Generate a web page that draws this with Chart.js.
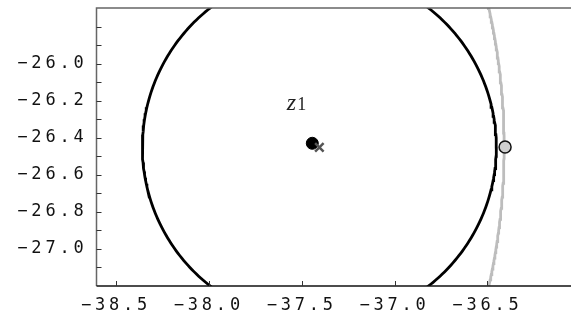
<!DOCTYPE html>
<html>
<head>
<meta charset="utf-8">
<script src="https://cdn.jsdelivr.net/npm/chart.js@4/dist/chart.umd.min.js"></script>
<style>
  body { margin: 0; background: #fff; }
  #wrap { width: 571px; height: 322px; }
</style>
</head>
<body>
<div id="wrap"><canvas id="chart"></canvas></div>
<script>
// axis ranges and ticks
const xRange = [-38.605, -36.05];
const yRange = [-27.2, -25.7];
const xTickValues = [-38.5, -38.0, -37.5, -37.0, -36.5];
const yTickValues = [-27.1, -27.0, -26.9, -26.8, -26.7, -26.6, -26.5, -26.4, -26.3, -26.2, -26.1, -26.0, -25.9, -25.8];
const yLabelled = [-27.0, -26.8, -26.6, -26.4, -26.2, -26.0];

// black circle and the grey arc (centre x, centre y, radius)
const blackCircle = [-37.405, -26.45, 0.953];
const greyCircle = [-39.86, -26.45, 3.45];

// single points
const z1Point = [{ x: -37.443, y: -26.43 }];
const crossPoint = [{ x: -37.405, y: -26.452 }];
const greyPoint = [{ x: -36.405, y: -26.45 }];
const z1Label = { x: -37.58, y: -26.25 };

function circlePoints(c, n) {
  const pts = [];
  for (let i = 0; i <= n; i++) {
    const a = (i / n) * Math.PI * 2;
    pts.push({ x: c[0] + c[2] * Math.cos(a), y: c[1] + c[2] * Math.sin(a) });
  }
  return pts;
}

function fmt(v) {
  return v.toFixed(1).replace("-", "\u2212");
}

function noPad(s) {
  s.paddingTop = 0;
  s.paddingBottom = 0;
  s.paddingLeft = 0;
  s.paddingRight = 0;
}

const framePlugin = {
  id: "frame",
  beforeDraw(chart) {
    chart.ctx.letterSpacing = "3.8px";
  },
  afterDraw(chart) {
    const { ctx, chartArea: a, scales } = chart;
    ctx.save();
    ctx.letterSpacing = "0px";
    // frame
    ctx.lineWidth = 1.5;
    ctx.strokeStyle = "#666";
    ctx.beginPath();
    ctx.moveTo(a.left, a.bottom);
    ctx.lineTo(a.left, a.top);
    ctx.lineTo(a.right, a.top);
    ctx.stroke();
    ctx.strokeStyle = "#111";
    ctx.beginPath();
    ctx.moveTo(a.left, a.bottom);
    ctx.lineTo(a.right, a.bottom);
    ctx.stroke();
    // inward tick marks
    ctx.lineWidth = 1;
    ctx.strokeStyle = "#333";
    ctx.beginPath();
    yTickValues.forEach((v) => {
      const py = Math.round(scales.y.getPixelForValue(v)) + 0.5;
      ctx.moveTo(a.left, py);
      ctx.lineTo(a.left + 5, py);
    });
    xTickValues.forEach((v) => {
      const px = Math.round(scales.x.getPixelForValue(v)) + 0.5;
      ctx.moveTo(px, a.bottom);
      ctx.lineTo(px, a.bottom - 5);
    });
    ctx.stroke();
    // z1 label
    const lx = scales.x.getPixelForValue(z1Label.x);
    const ly = scales.y.getPixelForValue(z1Label.y);
    ctx.fillStyle = "#222";
    ctx.textBaseline = "alphabetic";
    ctx.textAlign = "left";
    ctx.font = "italic 24px 'Liberation Serif'";
    ctx.fillText("z", lx, ly);
    const w = ctx.measureText("z").width;
    ctx.font = "18px 'Liberation Serif'";
    ctx.fillText("1", lx + w + 1, ly);
    ctx.restore();
  },
};

const tickFont = { family: "'DejaVu Sans Mono'", size: 17 };

new Chart(document.getElementById("chart"), {
  type: "scatter",
  data: {
    datasets: [
      {
        data: greyPoint,
        pointRadius: 6,
        pointBackgroundColor: "#cfcfcf",
        pointBorderColor: "#111",
        pointBorderWidth: 1.5,
      },
      {
        data: crossPoint,
        pointStyle: "crossRot",
        pointRadius: 6,
        pointBorderColor: "#555",
        pointBorderWidth: 2.5,
      },
      {
        data: z1Point,
        pointRadius: 6,
        pointBackgroundColor: "#000",
        pointBorderColor: "#000",
        pointBorderWidth: 1,
      },
      {
        data: circlePoints(blackCircle, 360),
        showLine: true,
        borderColor: "#000",
        borderWidth: 2.8,
        pointRadius: 0,
      },
      {
        data: circlePoints(greyCircle, 1440),
        showLine: true,
        borderColor: "#bdbdbd",
        borderWidth: 2.8,
        pointRadius: 0,
      },
    ],
  },
  options: {
    responsive: true,
    maintainAspectRatio: false,
    animation: false,
    layout: { autoPadding: false, padding: { top: 8, right: 0, bottom: 0, left: 0 } },
    plugins: { legend: { display: false }, tooltip: { enabled: false } },
    scales: {
      x: {
        type: "linear",
        min: xRange[0],
        max: xRange[1],
        afterBuildTicks: (s) => { s.ticks = xTickValues.map((v) => ({ value: v })); },
        afterFit: (s) => { s.height = 36; noPad(s); },
        grid: { display: false, drawTicks: false },
        border: { display: false },
        ticks: { color: "#111", font: tickFont, padding: 9, maxRotation: 0, callback: (v) => fmt(v) },
      },
      y: {
        type: "linear",
        min: yRange[0],
        max: yRange[1],
        afterBuildTicks: (s) => { s.ticks = yLabelled.map((v) => ({ value: v })); },
        afterFit: (s) => { s.width = 96.5; noPad(s); },
        grid: { display: false, drawTicks: false },
        border: { display: false },
        ticks: { color: "#111", font: tickFont, padding: 9, callback: (v) => fmt(v) },
      },
    },
  },
  plugins: [framePlugin],
});
</script>
</body>
</html>
